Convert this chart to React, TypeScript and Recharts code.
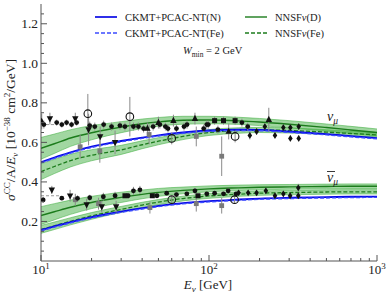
import React from "react";
import {
  ComposedChart,
  XAxis,
  YAxis,
  Line,
  Area,
  Scatter,
  ErrorBar,
} from "recharts";

// ---------- theory curves ----------
const energies = [10, 12, 15, 20, 25, 30, 40, 50, 70, 100, 150, 200, 300, 500, 700, 1000];
// neutrino
const nuCkmtN = [0.5, 0.523, 0.55, 0.578, 0.595, 0.607, 0.624, 0.636, 0.65, 0.66, 0.664, 0.663, 0.655, 0.642, 0.632, 0.622];
const nuCkmtFe = [0.496, 0.519, 0.546, 0.574, 0.591, 0.603, 0.62, 0.632, 0.646, 0.656, 0.66, 0.659, 0.651, 0.638, 0.628, 0.618];
const nuNnsfD = [0.57, 0.593, 0.622, 0.649, 0.665, 0.677, 0.694, 0.704, 0.712, 0.713, 0.709, 0.703, 0.692, 0.675, 0.663, 0.65];
const nuNnsfDErr = [0.055, 0.049, 0.042, 0.036, 0.031, 0.028, 0.024, 0.022, 0.02, 0.019, 0.018, 0.018, 0.018, 0.018, 0.018, 0.018];
const nuNnsfFe = [0.452, 0.478, 0.508, 0.535, 0.55, 0.562, 0.588, 0.606, 0.63, 0.65, 0.66, 0.663, 0.66, 0.652, 0.645, 0.638];
const nuNnsfFeErr = [0.04, 0.036, 0.032, 0.028, 0.025, 0.023, 0.02, 0.018, 0.016, 0.015, 0.014, 0.013, 0.013, 0.012, 0.012, 0.012];
// antineutrino
const nbCkmtN = [0.157, 0.175, 0.197, 0.222, 0.238, 0.25, 0.267, 0.279, 0.293, 0.303, 0.311, 0.316, 0.32, 0.323, 0.325, 0.326];
const nbCkmtFe = [0.153, 0.171, 0.193, 0.218, 0.234, 0.246, 0.263, 0.275, 0.289, 0.299, 0.307, 0.312, 0.316, 0.319, 0.321, 0.322];
const nbNnsfD = [0.23, 0.249, 0.272, 0.296, 0.311, 0.322, 0.337, 0.347, 0.357, 0.365, 0.37, 0.373, 0.375, 0.377, 0.378, 0.378];
const nbNnsfDErr = [0.045, 0.041, 0.036, 0.031, 0.028, 0.026, 0.022, 0.02, 0.017, 0.015, 0.014, 0.013, 0.012, 0.012, 0.012, 0.012];
const nbNnsfFe = [0.16, 0.178, 0.201, 0.228, 0.247, 0.261, 0.283, 0.298, 0.316, 0.329, 0.338, 0.343, 0.346, 0.349, 0.35, 0.35];
const nbNnsfFeErr = [0.02, 0.019, 0.018, 0.017, 0.016, 0.015, 0.014, 0.013, 0.012, 0.012, 0.011, 0.011, 0.011, 0.011, 0.011, 0.011];

// ---------- data points [E, value, error] ----------
const nuCircles = [
  [10.4, 0.69, 0.02], [12.4, 0.7, 0.015], [13.3, 0.69, 0.015], [14.2, 0.7, 0.015], [15.2, 0.69, 0.015],
  [16.3, 0.7, 0.015], [19.5, 0.685, 0.02], [20.9, 0.68, 0.02], [23.6, 0.69, 0.02], [26.3, 0.68, 0.02],
  [29.5, 0.685, 0.02], [31.6, 0.68, 0.02], [35.5, 0.68, 0.02], [38, 0.68, 0.02], [40.8, 0.67, 0.02],
  [46.5, 0.68, 0.02], [51, 0.69, 0.02], [55, 0.68, 0.02], [57, 0.67, 0.02], [64, 0.67, 0.02],
  [71, 0.68, 0.02], [74, 0.69, 0.02], [93, 0.67, 0.02], [97, 0.69, 0.02], [99, 0.69, 0.02],
  [113, 0.665, 0.02], [157, 0.7, 0.02], [170, 0.68, 0.02],
];
const nuDiamonds = [
  [175, 0.635, 0.02], [192, 0.655, 0.015], [215, 0.68, 0.015], [247, 0.635, 0.015], [277, 0.675, 0.015],
  [305, 0.62, 0.015], [305, 0.675, 0.015], [342, 0.62, 0.015], [342, 0.68, 0.015],
];
const nuTriUp = [
  [10.1, 0.706, 0.04], [43, 0.67, 0.03], [50, 0.7, 0.03], [61.4, 0.71, 0.03], [82.5, 0.72, 0.03],
  [131, 0.655, 0.04], [227, 0.715, 0.06],
];
const nuTriDown = [
  [11.3, 0.72, 0.03], [16, 0.72, 0.03], [19.2, 0.665, 0.08], [22.5, 0.63, 0.05], [27.6, 0.6, 0.06],
];
const nuSquares = [[108, 0.71, 0.02], [122, 0.71, 0.02], [143, 0.71, 0.02]];
const nuOpen = [[19, 0.745, 0.1], [33.8, 0.73, 0.1], [60, 0.62, 0.03], [143, 0.63, 0.03]];
const nuGray = [[17.1, 0.578, 0.06], [22.4, 0.557, 0.06], [44, 0.64, 0.05], [84, 0.63, 0.05], [119, 0.53, 0.1]];

const nbCircles = [
  [10.3, 0.309, 0.015], [13.3, 0.318, 0.01], [16.5, 0.317, 0.015], [19.5, 0.32, 0.015], [23.5, 0.325, 0.02],
  [27.6, 0.33, 0.02], [33, 0.33, 0.015], [35.5, 0.355, 0.02], [38.8, 0.36, 0.02], [49, 0.33, 0.01],
  [56, 0.343, 0.01], [64, 0.336, 0.01], [73.8, 0.34, 0.01], [82.5, 0.355, 0.015], [97, 0.34, 0.01],
  [108, 0.343, 0.01], [122, 0.34, 0.01], [130, 0.355, 0.015], [145, 0.34, 0.01],
];
const nbDiamonds = [
  [150, 0.345, 0.01], [171, 0.345, 0.01], [192, 0.345, 0.01], [218, 0.355, 0.015], [247, 0.33, 0.01],
  [277, 0.34, 0.015], [304, 0.33, 0.015], [340, 0.33, 0.015], [340, 0.37, 0.02],
];
const nbTriDown = [[11.6, 0.36, 0.02], [14.9, 0.33, 0.03], [18.7, 0.285, 0.03], [23, 0.275, 0.03], [28, 0.275, 0.03]];
const nbSquares = [[31.6, 0.33, 0.01], [46, 0.33, 0.01], [86, 0.33, 0.01]];
const nbOpen = [[60, 0.31, 0.02], [142, 0.31, 0.02]];
const nbGray = [[16, 0.31, 0.03], [22, 0.29, 0.03], [44.5, 0.27, 0.03], [84, 0.29, 0.04], [119, 0.28, 0.04]];

const nuAvg = [[10, 0.69], [12.5, 0.69]];
const nbAvg = [[10, 0.33], [13, 0.33]];

// ---------- ticks ----------
const xTicks = [10, 20, 30, 40, 50, 60, 70, 80, 90, 100, 200, 300, 400, 500, 600, 700, 800, 900, 1000];
const xMajor = [10, 100, 1000];
const xMajorExp = ["1", "2", "3"];
const yTicks = [
  0.05, 0.1, 0.15, 0.2, 0.25, 0.3, 0.35, 0.4, 0.45, 0.5, 0.55, 0.6, 0.65, 0.7, 0.75, 0.8, 0.85, 0.9,
  0.95, 1.0, 1.05, 1.1, 1.15, 1.2, 1.25,
];
const yMajor = [0.2, 0.4, 0.6, 0.8, 1.0, 1.2];

// ---------- derived tables ----------
const curveTable = energies.map((e, i) => ({
  E: e,
  nuN: nuCkmtN[i],
  nuNFe: nuCkmtFe[i],
  nuD: nuNnsfD[i],
  nuDBand: [nuNnsfD[i] - nuNnsfDErr[i], nuNnsfD[i] + nuNnsfDErr[i]],
  nuFe: nuNnsfFe[i],
  nuFeBand: [nuNnsfFe[i] - nuNnsfFeErr[i], nuNnsfFe[i] + nuNnsfFeErr[i]],
  nbN: nbCkmtN[i],
  nbNFe: nbCkmtFe[i],
  nbD: nbNnsfD[i],
  nbDBand: [nbNnsfD[i] - nbNnsfDErr[i], nbNnsfD[i] + nbNnsfDErr[i]],
  nbFe: nbNnsfFe[i],
  nbFeBand: [nbNnsfFe[i] - nbNnsfFeErr[i], nbNnsfFe[i] + nbNnsfFeErr[i]],
}));

const toPts = (arr: number[][]) => arr.map(([E, v, err]) => ({ E, v, err }));
const toLine = (arr: number[][]) => arr.map(([E, v]) => ({ E, v }));

const FONT = "'Liberation Serif', 'DejaVu Serif', serif";
const TXT = "#222";
const AX = "#555";
const BLUE = "#0a0ae6";
const GREEN = "#1c7c1c";
const BAND = "#44b044";

const isMajorY = (v: number) => yMajor.some((m) => Math.abs(m - v) < 1e-6);

const BottomTick = (p: any) => {
  const v = p.payload.value;
  const idx = xMajor.indexOf(v);
  const major = idx >= 0;
  return (
    <g>
      <line x1={p.x} x2={p.x} y1={p.y} y2={p.y - (major ? 6 : 3)} stroke={AX} strokeWidth={1} />
      {major && (
        <text x={p.x} y={p.y + 13} textAnchor="middle" fontSize={13} fontFamily={FONT} fill={TXT}>
          10
          <tspan dy={-5} fontSize={9}>
            {xMajorExp[idx]}
          </tspan>
        </text>
      )}
    </g>
  );
};
const TopTick = (p: any) => {
  const major = xMajor.indexOf(p.payload.value) >= 0;
  return <line x1={p.x} x2={p.x} y1={p.y} y2={p.y + (major ? 6 : 3)} stroke={AX} strokeWidth={1} />;
};
const LeftTick = (p: any) => {
  const v = p.payload.value;
  const major = isMajorY(v);
  return (
    <g>
      <line x1={p.x} x2={p.x + (major ? 6 : 3)} y1={p.y} y2={p.y} stroke={AX} strokeWidth={1} />
      {major && (
        <text x={p.x - 3} y={p.y} textAnchor="end" dominantBaseline="central" fontSize={13.5} fontFamily={FONT} fill={TXT}>
          {v.toFixed(1)}
        </text>
      )}
    </g>
  );
};
const RightTick = (p: any) => {
  const major = isMajorY(p.payload.value);
  return <line x1={p.x} x2={p.x - (major ? 6 : 3)} y1={p.y} y2={p.y} stroke={AX} strokeWidth={1} />;
};

const INK = "#111";
const circleShape = (p: any) => <circle cx={p.cx} cy={p.cy} r={2.4} fill={INK} />;
const openShape = (p: any) => <circle cx={p.cx} cy={p.cy} r={3.8} fill="none" stroke={INK} strokeWidth={1.1} />;
const triUpShape = (p: any) => (
  <polygon points={`${p.cx},${p.cy - 3.8} ${p.cx - 3.2},${p.cy + 2.3} ${p.cx + 3.2},${p.cy + 2.3}`} fill={INK} />
);
const triDownShape = (p: any) => (
  <polygon points={`${p.cx},${p.cy + 3.8} ${p.cx - 3.2},${p.cy - 2.3} ${p.cx + 3.2},${p.cy - 2.3}`} fill={INK} />
);
const diamondShape = (p: any) => (
  <polygon points={`${p.cx},${p.cy - 3.4} ${p.cx + 2.3},${p.cy} ${p.cx},${p.cy + 3.4} ${p.cx - 2.3},${p.cy}`} fill={INK} />
);
const squareShape = (p: any) => <rect x={p.cx - 2.5} y={p.cy - 2.5} width={5} height={5} fill={INK} />;
const graySquareShape = (p: any) => <rect x={p.cx - 2.4} y={p.cy - 2.4} width={4.8} height={4.8} fill="#7a7a7a" />;

const series: [number[][], any][] = [
  [nuGray, graySquareShape],
  [nbGray, graySquareShape],
  [nuCircles, circleShape],
  [nuDiamonds, diamondShape],
  [nuTriUp, triUpShape],
  [nuTriDown, triDownShape],
  [nuSquares, squareShape],
  [nuOpen, openShape],
  [nbCircles, circleShape],
  [nbDiamonds, diamondShape],
  [nbTriDown, triDownShape],
  [nbSquares, squareShape],
  [nbOpen, openShape],
];

export default function App() {
  return (
    <div style={{ position: "absolute", left: 0, top: 0, width: 391, height: 297, background: "#fff" }}>
      <ComposedChart width={391} height={297} data={curveTable} margin={{ top: 4, right: 14, bottom: 0, left: 0 }}>
        <XAxis
          dataKey="E"
          type="number"
          scale="log"
          domain={[10, 1000]}
          allowDataOverflow
          ticks={xTicks}
          interval={0}
          height={36}
          tickSize={0}
          tickMargin={0}
          tickLine={false}
          axisLine={{ stroke: AX }}
          tick={(p: any) => <BottomTick {...p} />}
        />
        <XAxis
          xAxisId="top"
          orientation="top"
          dataKey="E"
          type="number"
          scale="log"
          domain={[10, 1000]}
          allowDataOverflow
          ticks={xTicks}
          interval={0}
          height={0}
          tickSize={0}
          tickMargin={0}
          tickLine={false}
          axisLine={{ stroke: AX }}
          tick={(p: any) => <TopTick {...p} />}
        />
        <YAxis
          type="number"
          domain={[0, 1.3]}
          allowDataOverflow
          ticks={yTicks}
          interval={0}
          width={41}
          tickSize={0}
          tickMargin={0}
          tickLine={false}
          axisLine={{ stroke: AX }}
          tick={(p: any) => <LeftTick {...p} />}
        />
        <YAxis
          yAxisId="right"
          orientation="right"
          type="number"
          domain={[0, 1.3]}
          allowDataOverflow
          ticks={yTicks}
          interval={0}
          width={0}
          tickSize={0}
          tickMargin={0}
          tickLine={false}
          axisLine={{ stroke: AX }}
          tick={(p: any) => <RightTick {...p} />}
        />

        {["nuDBand", "nuFeBand", "nbDBand", "nbFeBand"].map((k) => (
          <Area
            key={k}
            dataKey={k}
            type="monotone"
            fill={BAND}
            fillOpacity={0.5}
            stroke={BAND}
            strokeOpacity={0.7}
            strokeWidth={0.8}
            isAnimationActive={false}
            dot={false}
            activeDot={false}
          />
        ))}

        <Line dataKey="nuD" type="monotone" stroke={GREEN} strokeWidth={1.4} dot={false} activeDot={false} isAnimationActive={false} />
        <Line dataKey="nbD" type="monotone" stroke={GREEN} strokeWidth={1.4} dot={false} activeDot={false} isAnimationActive={false} />
        <Line dataKey="nuFe" type="monotone" stroke={GREEN} strokeWidth={1.3} strokeDasharray="4 2" dot={false} activeDot={false} isAnimationActive={false} />
        <Line dataKey="nbFe" type="monotone" stroke={GREEN} strokeWidth={1.3} strokeDasharray="4 2" dot={false} activeDot={false} isAnimationActive={false} />
        <Line dataKey="nuN" type="monotone" stroke={BLUE} strokeWidth={1.8} dot={false} activeDot={false} isAnimationActive={false} />
        <Line dataKey="nbN" type="monotone" stroke={BLUE} strokeWidth={1.8} dot={false} activeDot={false} isAnimationActive={false} />
        <Line dataKey="nuNFe" type="monotone" stroke="#3b4bff" strokeWidth={1.4} strokeDasharray="4 2" dot={false} activeDot={false} isAnimationActive={false} />
        <Line dataKey="nbNFe" type="monotone" stroke="#3b4bff" strokeWidth={1.4} strokeDasharray="4 2" dot={false} activeDot={false} isAnimationActive={false} />

        <Line data={toLine(nuAvg)} dataKey="v" stroke="#999" strokeWidth={1} strokeDasharray="3 2" dot={false} activeDot={false} isAnimationActive={false} />
        <Line data={toLine(nbAvg)} dataKey="v" stroke="#999" strokeWidth={1} strokeDasharray="3 2" dot={false} activeDot={false} isAnimationActive={false} />

        {series.map(([arr, shape], i) => (
          <Scatter key={i} data={toPts(arr)} dataKey="v" shape={shape} isAnimationActive={false}>
            <ErrorBar dataKey="err" direction="y" width={0} stroke="#8a8a8a" strokeWidth={1} isAnimationActive={false} />
          </Scatter>
        ))}
      </ComposedChart>

      <svg
        width={391}
        height={297}
        style={{ position: "absolute", left: 0, top: 0, pointerEvents: "none" }}
        fontFamily={FONT}
      >
        {/* legend */}
        <line x1={95} x2={117} y1={17} y2={17} stroke={BLUE} strokeWidth={1.7} />
        <line x1={95} x2={117} y1={33} y2={33} stroke="#3b4bff" strokeWidth={1.4} strokeDasharray="4 2" />
        <line x1={245} x2={267} y1={17} y2={17} stroke={GREEN} strokeWidth={1.4} />
        <line x1={245} x2={267} y1={33} y2={33} stroke={GREEN} strokeWidth={1.3} strokeDasharray="4 2" />
        <text x={125} y={17} dominantBaseline="central" fontSize={10.5} fill={TXT}>CKMT+PCAC-NT(N)</text>
        <text x={125} y={33} dominantBaseline="central" fontSize={10.5} fill={TXT}>CKMT+PCAC-NT(Fe)</text>
        <text x={275} y={17} dominantBaseline="central" fontSize={10.5} fill={TXT}>
          NNSF<tspan fontStyle="italic">ν</tspan>(D)
        </text>
        <text x={275} y={33} dominantBaseline="central" fontSize={10.5} fill={TXT}>
          NNSF<tspan fontStyle="italic">ν</tspan>(Fe)
        </text>
        <text x={183} y={54} fontSize={10.5} fill={TXT}>
          <tspan fontStyle="italic">W</tspan>
          <tspan dy={2.5} fontSize={7.5}>min</tspan>
          <tspan dy={-2.5}> = 2 GeV</tspan>
        </text>

        {/* curve labels */}
        <text x={327} y={121} fontSize={14} fill={TXT}>
          <tspan fontStyle="italic">ν</tspan>
          <tspan dy={3} fontSize={9.5} fontStyle="italic">μ</tspan>
        </text>
        <text x={327} y={182} fontSize={14} fill={TXT}>
          <tspan fontStyle="italic">ν</tspan>
          <tspan dy={3} fontSize={9.5} fontStyle="italic">μ</tspan>
        </text>
        <line x1={327} x2={335} y1={171.5} y2={171.5} stroke={TXT} strokeWidth={0.9} />

        {/* axis titles */}
        <text x={208} y={289} textAnchor="middle" fontSize={13} fill={TXT}>
          <tspan fontStyle="italic">E</tspan>
          <tspan dy={3} fontSize={9} fontStyle="italic">ν</tspan>
          <tspan dy={-3}> [GeV]</tspan>
        </text>
        <text
          x={0}
          y={0}
          transform="translate(15,130) rotate(-90)"
          textAnchor="middle"
          fontSize={13.5}
          fill={TXT}
        >
          <tspan fontStyle="italic">σ</tspan>
          <tspan dy={-5} fontSize={9}>CC</tspan>
          <tspan dy={5}>/A/</tspan>
          <tspan fontStyle="italic">E</tspan>
          <tspan dy={3} fontSize={9} fontStyle="italic">ν</tspan>
          <tspan dy={-3}> [10</tspan>
          <tspan dy={-5} fontSize={9}>−38</tspan>
          <tspan dy={5}> cm</tspan>
          <tspan dy={-5} fontSize={9}>2</tspan>
          <tspan dy={5}>/GeV]</tspan>
        </text>
      </svg>
    </div>
  );
}
